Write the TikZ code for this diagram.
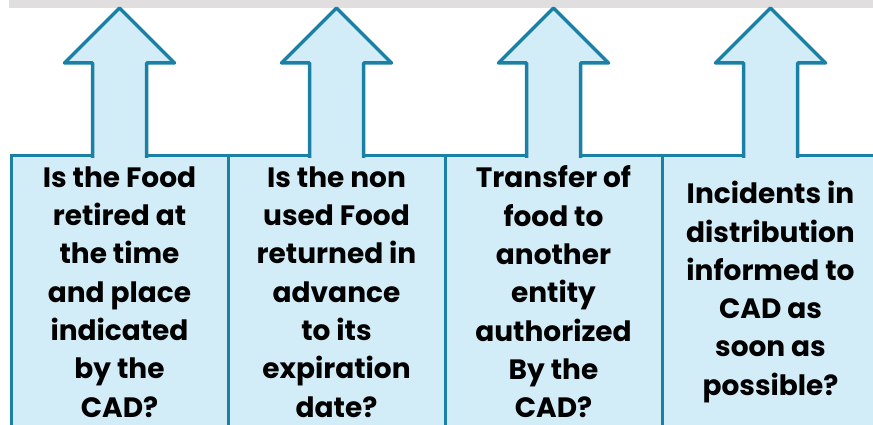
\documentclass[tikz,border=0pt]{standalone}
\usepackage{fontspec}
\setmainfont{Poppins}
\usepackage{tikz}
\usetikzlibrary{positioning}
\definecolor{arrowfill}{RGB}{211,237,248}
\definecolor{arrowline}{RGB}{27,128,166}
\definecolor{topband}{RGB}{224,222,223}

\begin{document}
\begin{tikzpicture}[x=1pt,y=-1pt,
        qbox/.style={draw=arrowline,fill=arrowfill,line width=3pt,outer sep=0pt,inner sep=0pt,
            minimum width=217pt,minimum height=272pt,align=center,
            font=\bfseries\fontsize{28}{38.3}\selectfont},
        uparrow/.style={draw=arrowline,fill=arrowfill,line width=3.5pt,line join=round}]
    \useasboundingbox (0,0) rectangle (873,425);
    \clip (0,0) rectangle (873,425);
    \fill[topband] (9,0) rectangle (873,8);
    % the four questions
    \node [qbox] (q1) at (119.5,292) {Is the Food\\retired at\\the time\\and place\\indicated\\by the\\CAD?};
    \node [qbox,right=0pt of q1] (q2) {Is the non\\used Food\\returned in\\advance\\to its\\expiration\\date?};
    \node [qbox,right=0pt of q2] (q3) {Transfer of\\food to\\another\\entity\\authorized\\By the\\CAD?};
    \node [qbox,right=0pt of q3] (q4) {Incidents in\\distribution\\informed to\\CAD as\\soon as\\possible?};
    % arrows on top
    \foreach \q in {q1,q2,q3,q4}{
        \filldraw [uparrow] ([xshift=-27pt,yshift=-2pt]\q.north) -- ++(0,-95) -- ++(-28,0)
            -- ++(55,-55) -- ++(55,55) -- ++(-28,0) -- ++(0,95);
    }
\end{tikzpicture}
\end{document}
